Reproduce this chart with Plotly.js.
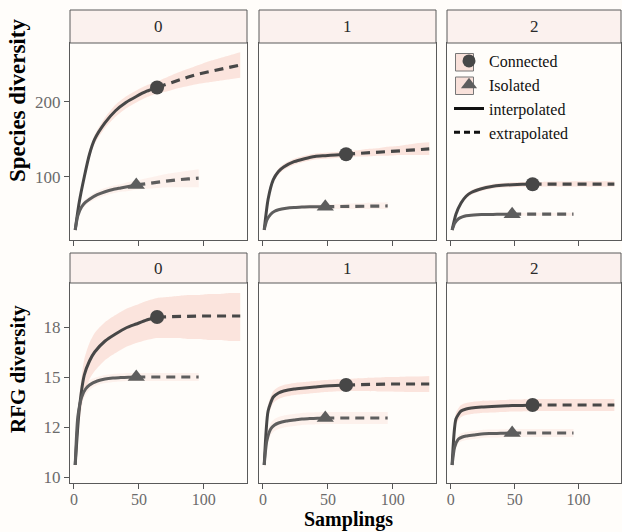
<!DOCTYPE html>
<html>
<head>
<meta charset="utf-8">
<script src="https://cdn.plot.ly/plotly-3.0.1.min.js"></script>
<style>html,body{margin:0;padding:0;background:#FFFDFA;}</style>
</head>
<body>
<div id="chart" style="width:622px;height:532px;"></div>
<script>
// ---- data ----
const facets = ['0', '1', '2'];
const xTicks = [0, 50, 100];
const spYTicks = [100, 200];
const rfgYTicks = [10, 12.5, 15, 17.5];
const rfgYTickText = ['10', '12', '15', '18'];

// sample sizes: Connected (ref n = 64, extrapolated to 128), Isolated (ref n = 48, extrapolated to 96)
const xConn = [1, 4, 8, 12, 16, 24, 32, 40, 48, 56, 64, 72, 80, 88, 96, 104, 112, 120, 128];
const xIso  = [1, 3, 6, 9, 12, 18, 24, 30, 36, 42, 48, 56, 64, 72, 80, 88, 96];
const refConn = 64;
const refIso = 48;

// Species diversity
const sp0ConnMid = [29, 65, 100, 130, 150, 172, 188, 199, 207, 214, 219, 224, 229, 233, 237, 240, 243, 246, 249];
const sp0ConnLo  = [27, 61, 95, 124, 144, 165, 180, 191, 199, 206, 211, 214, 218, 221, 224, 226, 228, 230, 232];
const sp0ConnHi  = [31, 69, 105, 136, 156, 179, 196, 207, 215, 222, 227, 233, 239, 244, 249, 254, 258, 262, 266];
const sp0IsoMid  = [29, 48, 60, 66, 70, 76, 80, 83, 85, 87, 89, 91, 93, 94, 96, 97, 98];
const sp0IsoLo   = [27, 45, 56, 62, 66, 71, 75, 78, 80, 81, 83, 84, 85, 86, 86, 86, 86];
const sp0IsoHi   = [31, 51, 64, 70, 74, 81, 85, 88, 90, 93, 95, 98, 101, 104, 106, 108, 110];

const sp1ConnMid = [29, 70, 96, 107, 113, 120, 124, 127, 128, 129, 130, 131, 132, 133, 134, 135, 136, 137, 137];
const sp1ConnLo  = [27, 67, 92, 103, 109, 116, 120, 123, 124, 125, 126, 127, 127, 128, 128, 129, 129, 129, 129];
const sp1ConnHi  = [31, 73, 100, 111, 117, 124, 128, 131, 132, 133, 134, 135, 137, 138, 140, 141, 143, 145, 146];
const sp1IsoMid  = [29, 42, 50, 54, 56, 58, 59, 59.5, 60, 60, 60, 60.3, 60.5, 60.6, 60.7, 60.8, 61];
const sp1IsoLo   = [27, 40, 48, 52, 54, 56, 57, 57, 57, 57, 57, 57, 57, 57, 57, 57, 57];
const sp1IsoHi   = [31, 44, 52, 56, 58, 60, 61, 62, 63, 63, 63, 63.5, 64, 64.5, 65, 65.5, 66];

const sp2ConnMid = [29, 50, 65, 74, 79, 84, 87, 88.5, 89.3, 89.8, 90, 90, 90, 90, 90, 90, 90, 90, 90];
const sp2ConnLo  = [27, 48, 62, 71, 76, 81, 84, 85.5, 86, 86.5, 87, 87, 87, 87, 87, 87, 87, 87, 87];
const sp2ConnHi  = [31, 52, 68, 77, 82, 87, 90, 91.5, 92.5, 93, 93, 93, 93.5, 93.5, 94, 94, 94, 94, 94];
const sp2IsoMid  = [29, 38, 44, 46.5, 48, 49, 49.5, 49.7, 49.8, 49.9, 50, 50, 50, 50, 50, 50, 50];
const sp2IsoLo   = [27, 36, 42, 44.5, 46, 47, 47.5, 47.7, 47.8, 47.9, 48, 48, 48, 48, 48, 48, 48];
const sp2IsoHi   = [31, 40, 46, 48.5, 50, 51, 51.5, 51.7, 51.8, 51.9, 52, 52, 52, 52, 52, 52, 52];

// RFG diversity
const rf0ConnMid = [10.6, 13.3, 15.1, 15.8, 16.25, 16.8, 17.15, 17.45, 17.65, 17.85, 18.0, 18.02, 18.03, 18.04, 18.05, 18.05, 18.05, 18.05, 18.05];
const rf0ConnLo  = [10.4, 12.6, 14.2, 14.9, 15.3, 15.85, 16.2, 16.5, 16.7, 16.85, 16.95, 16.95, 16.95, 16.9, 16.9, 16.85, 16.85, 16.8, 16.8];
const rf0ConnHi  = [10.8, 13.9, 15.9, 16.7, 17.2, 17.75, 18.1, 18.4, 18.6, 18.8, 18.95, 19.0, 19.05, 19.1, 19.1, 19.15, 19.15, 19.2, 19.2];
const rf0IsoMid  = [10.6, 13.0, 14.0, 14.4, 14.6, 14.8, 14.9, 14.95, 14.97, 14.99, 15.0, 15.0, 15.0, 15.0, 15.0, 15.0, 15.0];
const rf0IsoLo   = [10.4, 12.7, 13.7, 14.1, 14.35, 14.6, 14.7, 14.75, 14.78, 14.8, 14.8, 14.8, 14.8, 14.8, 14.8, 14.8, 14.8];
const rf0IsoHi   = [10.8, 13.3, 14.3, 14.7, 14.85, 15.0, 15.1, 15.15, 15.17, 15.2, 15.2, 15.2, 15.2, 15.2, 15.2, 15.2, 15.2];

const rf1ConnMid = [10.6, 13.3, 14.0, 14.2, 14.3, 14.4, 14.45, 14.5, 14.55, 14.58, 14.6, 14.62, 14.63, 14.64, 14.65, 14.65, 14.65, 14.65, 14.65];
const rf1ConnLo  = [10.4, 13.0, 13.7, 13.9, 14.0, 14.1, 14.15, 14.2, 14.25, 14.28, 14.3, 14.3, 14.3, 14.28, 14.27, 14.26, 14.25, 14.25, 14.25];
const rf1ConnHi  = [10.8, 13.6, 14.3, 14.5, 14.6, 14.7, 14.75, 14.8, 14.85, 14.88, 14.9, 14.93, 14.95, 14.97, 15.0, 15.0, 15.02, 15.03, 15.05];
const rf1IsoMid  = [10.6, 11.8, 12.4, 12.6, 12.7, 12.8, 12.85, 12.9, 12.92, 12.94, 12.95, 12.95, 12.95, 12.95, 12.95, 12.95, 12.95];
const rf1IsoLo   = [10.4, 11.5, 12.1, 12.3, 12.4, 12.5, 12.55, 12.6, 12.62, 12.64, 12.65, 12.65, 12.65, 12.65, 12.65, 12.65, 12.65];
const rf1IsoHi   = [10.8, 12.1, 12.7, 12.9, 13.0, 13.1, 13.15, 13.2, 13.22, 13.24, 13.25, 13.25, 13.25, 13.25, 13.25, 13.25, 13.25];

const rf2ConnMid = [10.6, 12.9, 13.3, 13.4, 13.45, 13.5, 13.52, 13.55, 13.57, 13.58, 13.6, 13.6, 13.6, 13.6, 13.6, 13.6, 13.6, 13.6, 13.6];
const rf2ConnLo  = [10.4, 12.6, 13.0, 13.1, 13.15, 13.2, 13.22, 13.25, 13.27, 13.28, 13.3, 13.3, 13.3, 13.3, 13.3, 13.3, 13.3, 13.3, 13.3];
const rf2ConnHi  = [10.8, 13.2, 13.6, 13.7, 13.75, 13.8, 13.82, 13.85, 13.87, 13.88, 13.9, 13.9, 13.9, 13.9, 13.9, 13.9, 13.9, 13.9, 13.9];
const rf2IsoMid  = [10.6, 11.5, 11.9, 12.0, 12.05, 12.1, 12.15, 12.17, 12.18, 12.19, 12.2, 12.2, 12.2, 12.2, 12.2, 12.2, 12.2];
const rf2IsoLo   = [10.4, 11.3, 11.7, 11.8, 11.85, 11.9, 11.95, 11.97, 11.98, 11.99, 12.0, 12.0, 12.0, 12.0, 12.0, 12.0, 12.0];
const rf2IsoHi   = [10.8, 11.7, 12.1, 12.2, 12.25, 12.3, 12.35, 12.37, 12.38, 12.39, 12.4, 12.4, 12.4, 12.4, 12.4, 12.4, 12.4];

const legendNames = ['Connected', 'Isolated', 'interpolated', 'extrapolated'];

// ---- build ----
const panels = [
  {row: 0, col: 0, c: [sp0ConnMid, sp0ConnLo, sp0ConnHi], i: [sp0IsoMid, sp0IsoLo, sp0IsoHi]},
  {row: 0, col: 1, c: [sp1ConnMid, sp1ConnLo, sp1ConnHi], i: [sp1IsoMid, sp1IsoLo, sp1IsoHi]},
  {row: 0, col: 2, c: [sp2ConnMid, sp2ConnLo, sp2ConnHi], i: [sp2IsoMid, sp2IsoLo, sp2IsoHi]},
  {row: 1, col: 0, c: [rf0ConnMid, rf0ConnLo, rf0ConnHi], i: [rf0IsoMid, rf0IsoLo, rf0IsoHi]},
  {row: 1, col: 1, c: [rf1ConnMid, rf1ConnLo, rf1ConnHi], i: [rf1IsoMid, rf1IsoLo, rf1IsoHi]},
  {row: 1, col: 2, c: [rf2ConnMid, rf2ConnLo, rf2ConnHi], i: [rf2IsoMid, rf2IsoLo, rf2IsoHi]}
];

const W = 622, H = 532;
const colPx = [[70, 247], [259, 436], [447, 621]];
const rowPx = [[43, 240], [283, 483]];
const stripPx = [[10, 43], [253, 283]];
const fx = p => p / W;
const fy = p => 1 - p / H;

const connColor = '#474747';
const isoColor = '#5e5e5e';
const connFill = 'rgba(247,208,196,0.55)';
const isoFill = 'rgba(250,222,214,0.4)';
const serif = 'Liberation Serif, Times New Roman, serif';

const traces = [];
const layout = {
  width: W, height: H, autosize: false,
  margin: {l: 0, r: 0, t: 0, b: 0},
  paper_bgcolor: '#FFFDFA', plot_bgcolor: '#FFFDFA',
  showlegend: true,
  legend: {x: fx(449), y: fy(44), xanchor: 'left', yanchor: 'top', bgcolor: 'rgba(0,0,0,0)', traceorder: 'normal',
           font: {family: serif, size: 16, color: '#111'}, itemwidth: 30, tracegroupgap: 0},
  shapes: [], annotations: []
};

panels.forEach((p, k) => {
  const n = k + 1;
  const xa = 'x' + (n === 1 ? '' : n), ya = 'y' + (n === 1 ? '' : n);
  const xk = 'xaxis' + (n === 1 ? '' : n), yk = 'yaxis' + (n === 1 ? '' : n);
  const isTop = p.row === 0;
  layout[xk] = {
    domain: [fx(colPx[p.col][0]), fx(colPx[p.col][1])], anchor: ya,
    range: [-3, 133.2], tickvals: xTicks, ticktext: xTicks.map(String),
    showticklabels: !isTop, ticks: 'outside', ticklen: 5, tickcolor: '#555', tickwidth: 1,
    ticklabelstandoff: -3,
    showgrid: false, zeroline: false, showline: true, mirror: true, linecolor: '#5a5a5a', linewidth: 1,
    tickfont: {family: serif, size: 16, color: '#6b6b6b'}
  };
  layout[yk] = {
    domain: [fy(rowPx[p.row][1]), fy(rowPx[p.row][0])], anchor: xa,
    range: isTop ? [15.6, 278.3] : [9.7, 19.7],
    tickvals: isTop ? spYTicks : rfgYTicks,
    ticktext: isTop ? spYTicks.map(String) : rfgYTickText,
    showticklabels: p.col === 0, ticks: p.col === 0 ? 'outside' : '', ticklen: 5, tickcolor: '#555', tickwidth: 1,
    showgrid: false, zeroline: false, showline: true, mirror: true, linecolor: '#5a5a5a', linewidth: 1,
    tickfont: {family: serif, size: 17, color: '#6b6b6b'}
  };

  const groups = [
    {x: xConn, d: p.c, ref: refConn, color: connColor, fill: connFill, sym: 'circle', size: 14},
    {x: xIso, d: p.i, ref: refIso, color: isoColor, fill: isoFill, sym: 'triangle-up', size: 15}
  ];
  groups.forEach(g => {
    traces.push({x: g.x, y: g.d[1], xaxis: xa, yaxis: ya, mode: 'lines', line: {width: 0, shape: 'spline', smoothing: 0.6},
                 showlegend: false, hoverinfo: 'skip'});
    traces.push({x: g.x, y: g.d[2], xaxis: xa, yaxis: ya, mode: 'lines', line: {width: 0, shape: 'spline', smoothing: 0.6},
                 fill: 'tonexty', fillcolor: g.fill, showlegend: false, hoverinfo: 'skip'});
  });
  groups.forEach(g => {
    const r = g.x.indexOf(g.ref);
    traces.push({x: g.x.slice(0, r + 1), y: g.d[0].slice(0, r + 1), xaxis: xa, yaxis: ya, mode: 'lines',
                 line: {color: g.color, width: 3, shape: 'spline', smoothing: 0.6}, showlegend: false, hoverinfo: 'skip'});
    traces.push({x: g.x.slice(r), y: g.d[0].slice(r), xaxis: xa, yaxis: ya, mode: 'lines',
                 line: {color: g.color, width: 3.2, dash: '9px,6px'}, showlegend: false, hoverinfo: 'skip'});
  });
  groups.forEach(g => {
    const r = g.x.indexOf(g.ref);
    traces.push({x: [g.x[r]], y: [g.d[0][r]], xaxis: xa, yaxis: ya, mode: 'markers',
                 marker: {symbol: g.sym, size: g.size, color: g.color}, showlegend: false, hoverinfo: 'skip'});
  });

  layout.shapes.push({type: 'rect', xref: 'paper', yref: 'paper',
    x0: fx(colPx[p.col][0]), x1: fx(colPx[p.col][1]), y0: fy(stripPx[p.row][1]), y1: fy(stripPx[p.row][0]),
    fillcolor: '#FBF1EE', line: {color: '#5a5a5a', width: 1}, layer: 'above'});
  layout.annotations.push({xref: 'paper', yref: 'paper', showarrow: false,
    x: fx((colPx[p.col][0] + colPx[p.col][1]) / 2), y: fy((stripPx[p.row][0] + stripPx[p.row][1]) / 2),
    xanchor: 'center', yanchor: 'middle', text: facets[p.col], font: {family: serif, size: 17, color: '#2a2a2a'}});
});

// legend entries
traces.push({x: [null], y: [null], mode: 'markers', name: legendNames[0], marker: {symbol: 'circle', size: 13, color: connColor}});
traces.push({x: [null], y: [null], mode: 'markers', name: legendNames[1], marker: {symbol: 'triangle-up', size: 14, color: isoColor}});
traces.push({x: [null], y: [null], mode: 'lines', name: legendNames[2], line: {color: '#111', width: 3}});
traces.push({x: [null], y: [null], mode: 'lines', name: legendNames[3], line: {color: '#111', width: 3, dash: '6px,4px'}});

// legend key boxes (decoration around the legend markers)
[[53.5, 71], [77, 94.5]].forEach(b => layout.shapes.push({type: 'rect', xref: 'paper', yref: 'paper',
  x0: fx(455.5), x1: fx(473.5), y0: fy(b[1]), y1: fy(b[0]), fillcolor: '#F9E1DA', line: {color: '#777', width: 1}, layer: 'above'}));

// axis titles
layout.annotations.push({xref: 'paper', yref: 'paper', showarrow: false, x: fx(17), y: fy(101), textangle: -90,
  xanchor: 'center', yanchor: 'middle', text: '<b>Species diversity</b>', font: {family: serif, size: 23, color: '#000'}});
layout.annotations.push({xref: 'paper', yref: 'paper', showarrow: false, x: fx(18), y: fy(369), textangle: -90,
  xanchor: 'center', yanchor: 'middle', text: '<b>RFG diversity</b>', font: {family: serif, size: 21, color: '#000'}});
layout.annotations.push({xref: 'paper', yref: 'paper', showarrow: false, x: fx(348), y: fy(519),
  xanchor: 'center', yanchor: 'middle', text: '<b>Samplings</b>', font: {family: serif, size: 20, color: '#000'}});

Plotly.newPlot('chart', traces, layout, {displayModeBar: false, staticPlot: true});
</script>
</body>
</html>
